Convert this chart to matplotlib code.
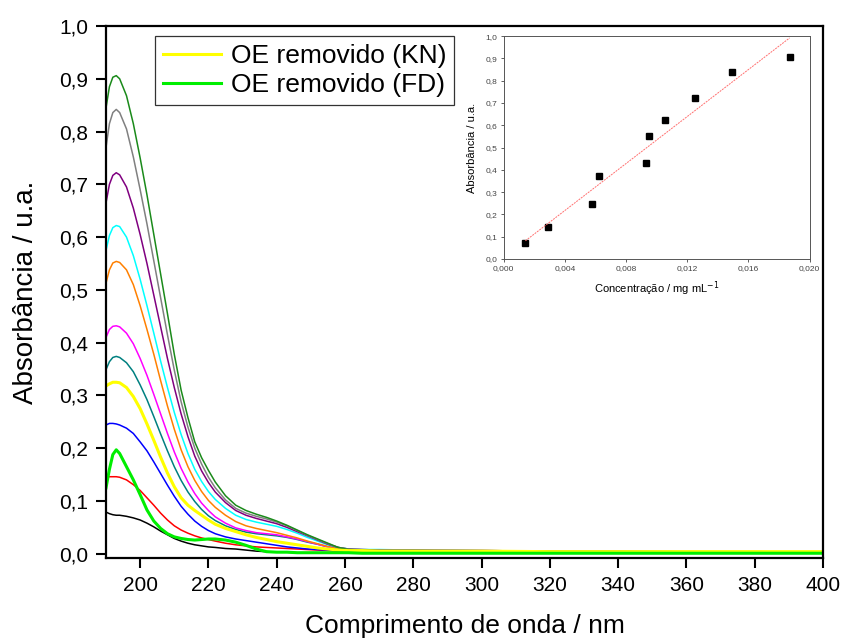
import numpy as np
import matplotlib
matplotlib.use('Agg')
import matplotlib.pyplot as plt
from matplotlib.ticker import FuncFormatter, MultipleLocator

plt.rcParams['font.family'] = ['Liberation Sans', 'DejaVu Sans']

# wavelength grid (nm)
wl = [190, 191, 192, 193, 194, 196, 198, 200, 202, 204, 206, 208, 210, 212, 214,
      216, 218, 220, 222, 225, 228, 231, 234, 237, 240, 243, 246, 249, 252, 255,
      258, 261, 265, 270, 280, 300, 320, 340, 360, 380, 400]

abs_black = [.079, .076, .074, .073, .073, .071, .068, .064, .058, .051, .043, .036, .029, .024, .020,
             .017, .015, .013, .012, .010, .009, .007, .005, .004, .003, .003, .002, .002, .002, .001,
             .001, .001, .001, .001, .001, .001, .001, .001, .001, .001, .001]
abs_red = [.145, .146, .146, .146, .145, .140, .131, .120, .106, .092, .077, .064, .053, .045, .039,
           .034, .030, .027, .024, .020, .017, .015, .013, .012, .011, .010, .009, .008, .007, .006,
           .005, .005, .004, .004, .004, .003, .003, .003, .003, .003, .003]
abs_blue = [.244, .247, .247, .246, .244, .238, .228, .212, .195, .174, .152, .130, .109, .090, .075,
            .062, .052, .044, .038, .032, .028, .025, .022, .019, .016, .013, .011, .009, .008, .007,
            .006, .005, .005, .004, .004, .004, .003, .003, .003, .003, .003]
abs_teal = [.349, .364, .372, .374, .372, .362, .345, .320, .292, .260, .227, .195, .165, .139, .117,
            .099, .084, .072, .063, .053, .046, .041, .038, .036, .034, .031, .027, .022, .018, .013,
            .010, .008, .007, .006, .006, .005, .005, .004, .004, .004, .003]
abs_magenta = [.410, .425, .431, .432, .430, .418, .398, .370, .338, .302, .265, .228, .193, .162, .136,
               .114, .096, .082, .070, .058, .049, .044, .040, .038, .036, .032, .028, .023, .018, .013,
               .010, .008, .007, .007, .006, .006, .005, .004, .004, .004, .003]
abs_orange = [.513, .538, .551, .554, .552, .538, .510, .470, .425, .378, .328, .280, .236, .197, .165,
              .139, .118, .101, .088, .073, .061, .053, .048, .044, .040, .035, .030, .024, .019, .014,
              .010, .008, .007, .007, .006, .006, .005, .004, .004, .004, .003]
abs_cyan = [.575, .603, .618, .622, .620, .600, .565, .520, .470, .418, .365, .315, .268, .226, .190,
            .160, .137, .118, .103, .086, .073, .065, .060, .056, .052, .046, .039, .031, .024, .017,
            .012, .009, .008, .008, .007, .006, .005, .005, .004, .004, .004]
abs_purple = [.665, .700, .717, .722, .718, .695, .655, .605, .550, .490, .430, .370, .315, .265, .222,
              .185, .157, .135, .117, .097, .082, .073, .067, .062, .057, .050, .042, .034, .026, .018,
              .012, .009, .008, .007, .007, .006, .005, .005, .004, .004, .004]
abs_gray = [.770, .815, .836, .842, .836, .805, .752, .690, .625, .555, .485, .415, .348, .288, .240,
            .200, .170, .145, .125, .102, .086, .077, .071, .066, .060, .053, .044, .035, .027, .019,
            .012, .009, .008, .007, .007, .006, .005, .004, .004, .003, .003]
abs_dkgreen = [.845, .885, .903, .906, .900, .868, .815, .750, .680, .605, .530, .455, .378, .310, .258,
               .212, .182, .158, .136, .110, .092, .082, .075, .069, .062, .054, .045, .036, .028, .020,
               .012, .008, .007, .006, .006, .005, .004, .004, .003, .003, .003]
abs_kn = [.318, .322, .325, .325, .324, .315, .298, .275, .246, .215, .183, .153, .127, .106, .092,
          .082, .073, .064, .056, .048, .042, .036, .031, .027, .023, .020, .017, .014, .011, .009,
          .007, .006, .006, .005, .005, .005, .004, .004, .004, .004, .004]
abs_fd = [.125, .160, .188, .197, .190, .165, .140, .112, .083, .062, .048, .038, .032, .029, .027,
          .026, .027, .028, .028, .026, .022, .016, .009, .004, .003, .003, .002, .002, .002, .002,
          .002, .002, .001, .001, .001, .001, .001, .001, .001, .001, .001]

standard_colors = ['black', '#ff0000', '#0000ff', '#008080', '#ff00ff', '#ff8000',
                   '#00ffff', '#800080', '#808080', '#1a8a1a']

# calibration (inset)
conc = [0.00142, 0.00288, 0.00580, 0.00621, 0.00932, 0.00948, 0.01054, 0.01248, 0.01495, 0.01869]
abs_peak = [0.072, 0.143, 0.247, 0.372, 0.429, 0.553, 0.622, 0.720, 0.840, 0.906]


def comma(fmt):
    return FuncFormatter(lambda v, pos: (fmt % v).replace('.', ','))


fig = plt.figure(figsize=(8.42, 6.38), dpi=100)
ax = fig.add_axes([0.1259, 0.1254, 0.8515, 0.8338])

standards = [abs_black, abs_red, abs_blue, abs_teal, abs_magenta, abs_orange,
             abs_cyan, abs_purple, abs_gray, abs_dkgreen]
for ys, c in zip(standards, standard_colors):
    ax.plot(wl, ys, color=c, lw=1.1)
ax.plot(wl, abs_kn, color='#ffff00', lw=2.2, label='OE removido (KN)')
ax.plot(wl, abs_fd, color='#00ee00', lw=2.2, label='OE removido (FD)')

ax.set_xlim(190, 400)
ax.set_ylim(-0.008, 1.0)
ax.xaxis.set_major_locator(MultipleLocator(20))
ax.yaxis.set_major_locator(MultipleLocator(0.1))
ax.yaxis.set_major_formatter(comma('%.1f'))
ax.tick_params(axis='both', labelsize=15, length=7, width=1.5, direction='out', pad=6)
for s in ax.spines.values():
    s.set_linewidth(1.6)
ax.set_xlabel('Comprimento de onda / nm', fontsize=19, labelpad=14)
ax.set_ylabel('Absorbância / u.a.', fontsize=20, labelpad=14)

leg = ax.legend(loc='upper left', bbox_to_anchor=(0.069, 0.981), fontsize=19,
                frameon=True, fancybox=False, edgecolor='black', borderaxespad=0,
                handlelength=2.2, borderpad=0.3, labelspacing=0.18, handletextpad=0.35)
leg.get_frame().set_linewidth(0.9)

# inset
ins = fig.add_axes([0.5982, 0.594, 0.3634, 0.3495])
ins.plot(conc, abs_peak, 's', color='black', ms=4.5)
k, b = np.polyfit(conc, abs_peak, 1)
xf = np.array([conc[0], conc[-1]])
ins.plot(xf, k * xf + b, color='#ff7070', lw=0.7, ls=(0, (2, 1)))
ins.set_xlim(0, 0.020)
ins.set_ylim(0, 1.0)
ins.xaxis.set_major_locator(MultipleLocator(0.004))
ins.yaxis.set_major_locator(MultipleLocator(0.1))
ins.xaxis.set_major_formatter(comma('%.3f'))
ins.yaxis.set_major_formatter(comma('%.1f'))
ins.tick_params(axis='both', labelsize=6, length=2.5, width=0.6, colors='#444444', pad=2)
for s in ins.spines.values():
    s.set_linewidth(0.7)
    s.set_color('#555555')
ins.set_xlabel('Concentração / mg mL$^{-1}$', fontsize=8, labelpad=5)
ins.set_ylabel('Absorbância / u.a.', fontsize=8, labelpad=6)

fig.savefig('out.png', dpi=100)
